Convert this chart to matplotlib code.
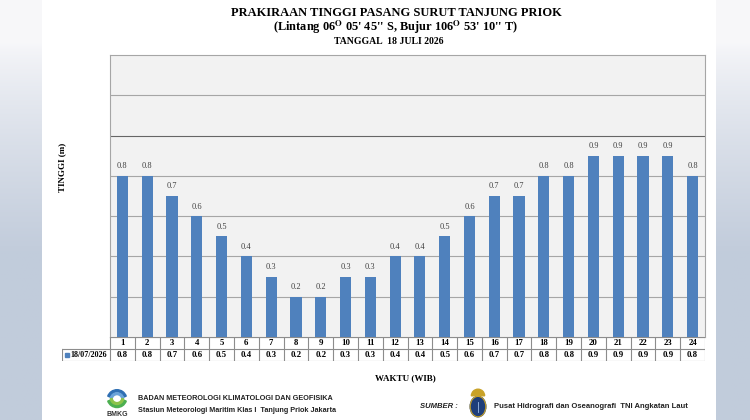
import numpy as np
import matplotlib.pyplot as plt
from matplotlib.patches import Ellipse, Wedge, Rectangle

plt.rcParams['font.family'] = ['Liberation Serif', 'DejaVu Serif']
plt.rcParams['mathtext.fontset'] = 'stix'

# data
jam = list(range(1, 25))
tinggi = [0.8, 0.8, 0.7, 0.6, 0.5, 0.4, 0.3, 0.2, 0.2, 0.3, 0.3, 0.4,
          0.4, 0.5, 0.6, 0.7, 0.7, 0.8, 0.8, 0.9, 0.9, 0.9, 0.9, 0.8]
seri = '18/07/2026'
judul1 = 'PRAKIRAAN TINGGI PASANG SURUT TANJUNG PRIOK'
judul2 = "(Lintang 06$^{\\mathbf{O}}$ 05' 45'' S, Bujur 106$^{\\mathbf{O}}$ 53' 10'' T)"
judul3 = 'TANGGAL  18 JULI 2026'

W, H = 750, 420
bar_c = '#4f81bd'
grid_c = '#a6a6a6'


def px(x0, y0, x1, y1):
    # pixel box (top-left origin) -> figure rect
    return [x0 / W, 1 - y1 / H, (x1 - x0) / W, (y1 - y0) / H]


fig = plt.figure(figsize=(7.5, 4.2), dpi=100)
fig.patch.set_facecolor('white')

# side gradient bands
grad = np.linspace(0, 1, 200)
prof = np.clip((grad - 0.1) / 0.5, 0, 1) ** 0.8
top = np.array([0.97, 0.97, 0.98])
mid = np.array([0.76, 0.80, 0.86])
img = top[None, :] * (1 - prof[:, None]) + mid[None, :] * prof[:, None]
img = img[:, None, :]
for box in [(0, 0, 42, H), (716, 0, W, H)]:
    sa = fig.add_axes(px(*box))
    sa.imshow(img, aspect='auto', extent=[0, 1, 1, 0])
    sa.axis('off')

# main chart
ax = fig.add_axes(px(110, 55, 705, 337))
ax.set_facecolor('#f2f2f2')
ax.bar(jam, tinggi, width=0.45, color=bar_c, zorder=3)
ax.set_xlim(0.5, 24.5)
ax.set_ylim(0, 1.4)
ax.set_yticks(np.arange(0, 1.41, 0.2))
for y in np.arange(0.2, 1.39, 0.2):
    ax.axhline(y, color='#666666' if abs(y - 1.0) < 1e-6 else grid_c, lw=0.8, zorder=1)
ax.tick_params(left=False, bottom=False, labelleft=False, labelbottom=False)
for s in ax.spines.values():
    s.set_color(grid_c)
    s.set_linewidth(0.8)
for x, v in zip(jam, tinggi):
    ax.annotate(f'{v:.1f}', (x, v), xytext=(0, 4), textcoords='offset points',
                ha='center', va='bottom', fontsize=6, color='#404040')

# data table under chart
tab = fig.add_axes(px(62, 337, 705, 361))
x_left = 0.5 - (110 - 62) / (595 / 24)
tab.set_xlim(x_left, 24.5)
tab.set_ylim(0, 2)
tab.axis('off')
lc = '#8c8c8c'
tab.plot([0.5, 24.5], [2, 2], color=lc, lw=0.8)
tab.plot([x_left, 24.5], [1, 1], color=lc, lw=0.8)
tab.plot([x_left, 24.5], [0, 0], color=lc, lw=0.8)
tab.plot([x_left, x_left], [0, 1], color=lc, lw=0.8)
for k in range(25):
    tab.plot([k + 0.5, k + 0.5], [0, 2], color=lc, lw=0.8)
for x, v in zip(jam, tinggi):
    tab.text(x, 1.5, str(x), ha='center', va='center', fontsize=6.3, fontweight='bold')
    tab.text(x, 0.5, f'{v:.1f}', ha='center', va='center', fontsize=6.3, fontweight='bold')
tab.add_patch(Rectangle((x_left + 0.12, 0.37), 0.15, 0.26, color=bar_c))
tab.text(x_left + 0.35, 0.5, seri, ha='left', va='center', fontsize=5.8, fontweight='bold')

# titles
fig.text(396 / W, 1 - 13 / H, judul1, ha='center', va='center', fontsize=9, fontweight='bold')
fig.text(396 / W, 1 - 27 / H, judul2, ha='center', va='center', fontsize=8.9, fontweight='bold')
fig.text(389 / W, 1 - 41 / H, judul3, ha='center', va='center', fontsize=7, fontweight='bold')
fig.text(62 / W, 1 - 167 / H, 'TINGGI (m)', rotation=90, ha='center', va='center',
         fontsize=6.5, fontweight='bold')
fig.text(405 / W, 1 - 378 / H, 'WAKTU (WIB)', ha='center', va='center', fontsize=6.5, fontweight='bold')

# footer: BMKG
logo = fig.add_axes(px(104, 386, 130, 418))
logo.set_xlim(-1, 1)
logo.set_ylim(-1.6, 1)
logo.set_aspect('equal')
logo.axis('off')
logo.add_patch(Wedge((0, -0.1), 0.8, 20, 160, width=0.18, color='#2f6fb3'))
logo.add_patch(Wedge((0, -0.1), 0.55, 10, 170, width=0.15, color='#6aa3d8'))
logo.add_patch(Wedge((0, 0.05), 0.8, 200, 340, width=0.2, color='#4caf50'))
logo.add_patch(Wedge((0, 0.05), 0.55, 190, 350, width=0.15, color='#8bc34a'))
logo.text(0, -1.3, 'BMKG', ha='center', va='center', fontsize=5, fontweight='bold',
          family='Liberation Sans', color='#333333')
fig.text(138 / W, 1 - 399 / H, 'BADAN METEOROLOGI KLIMATOLOGI DAN GEOFISIKA', ha='left', va='center',
         fontsize=5.2, fontweight='bold', family='Liberation Sans', color='#222222')
fig.text(138 / W, 1 - 410 / H, 'Stasiun Meteorologi Maritim Klas I  Tanjung Priok Jakarta', ha='left',
         va='center', fontsize=5.2, fontweight='bold', family='Liberation Sans', color='#222222')

# footer: Pushidrosal
fig.text(420 / W, 1 - 407 / H, 'SUMBER :', ha='left', va='center', fontsize=5.5, fontweight='bold',
         style='italic', family='Liberation Sans', color='#222222')
emb = fig.add_axes(px(466, 388, 490, 418))
emb.set_xlim(-1, 1)
emb.set_ylim(-1.4, 1.1)
emb.set_aspect('equal')
emb.axis('off')
emb.add_patch(Ellipse((0, -0.45), 1.3, 1.7, color='#1f3f7a'))
emb.add_patch(Ellipse((0, -0.45), 1.3, 1.7, fill=False, ec='#c9a227', lw=0.8))
emb.add_patch(Wedge((0, 0.45), 0.55, 0, 180, color='#c9a227'))
emb.plot([0, 0], [-0.9, -0.1], color='#9fc0e8', lw=0.6)
fig.text(494 / W, 1 - 407 / H, 'Pusat Hidrografi dan Oseanografi  TNI Angkatan Laut', ha='left',
         va='center', fontsize=5.5, fontweight='bold', family='Liberation Sans', color='#222222')

fig.savefig('out.png', dpi=100)
